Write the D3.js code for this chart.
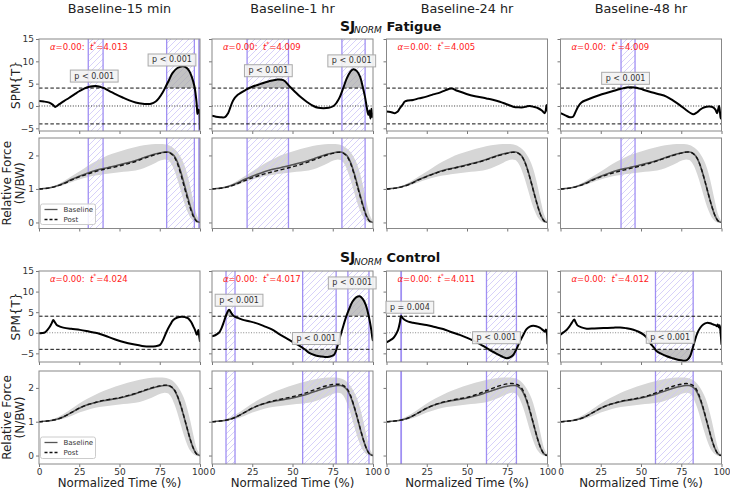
<!DOCTYPE html>
<html><head><meta charset="utf-8">
<script src="https://cdn.jsdelivr.net/npm/d3@7"></script>
<style>body{margin:0;background:#fff} svg{display:block;font-family:"DejaVu Sans",sans-serif} text{white-space:pre}</style>
</head><body><svg id="c" width="730" height="490"></svg>
<script>
// ---------------- DATA ----------------
const columns = ["Baseline-15 min", "Baseline-1 hr", "Baseline-24 hr", "Baseline-48 hr"];
const xTicks = [0, 25, 50, 75, 100];
const spmTicks = [-5, 0, 5, 10, 15];
const forceTicks = [0, 1, 2];
const tFatigue = [4.013, 4.009, 4.005, 4.009];
const tControl = [4.024, 4.017, 4.011, 4.012];

// SPM{t} curves: [time %, t value]
const spmFatigue15 = [[0,1.1],[3,1.0],[6.4,0.75],[8.5,0.3],[10.1,-0.2],[12.6,0.4],[15.5,1.1],[18.8,1.85],[22,2.6],[25,3.3],[28,3.9],[31.2,4.3],[35.4,4.46],[39.5,4.1],[43.5,3.4],[47.8,2.6],[52,1.9],[56.1,1.27],[60,0.8],[64.4,0.5],[67,0.45],[69.6,0.5],[72.5,1.0],[74.7,1.85],[76.8,3.0],[78.9,4.46],[81,6.0],[83,7.4],[86,8.5],[89.2,8.9],[91.5,8.6],[93.4,7.8],[95,6.4],[96.5,4.46],[97.5,2.0],[98,0.2],[98.4,-1.8],[98.8,-0.8],[99.2,-1.5],[99.6,-0.9],[100,-5.3]];
const spmFatigue1h = [[0,-2.2],[2.5,-2.4],[5,-2.5],[8,-2.5],[10,-1.6],[11.5,-0.2],[13.2,1.3],[16,2.5],[21.5,3.7],[25,4.3],[29.8,4.9],[35,5.5],[40,5.9],[44.3,5.8],[48.4,4.3],[51.5,3.2],[54.7,2.1],[59,0.9],[63,0],[66,-0.4],[69.2,-0.5],[72.5,-0.4],[75.5,0],[77.5,0.8],[79.5,2.1],[81.5,4.0],[83.7,6.2],[85.8,7.6],[87.8,8.25],[90,7.8],[92,6.5],[93.5,4.5],[95,2.1],[96,0],[97.1,-2],[97.8,-1.0],[98.4,-2.8],[99,-0.6],[99.5,-2.5],[100,-1.5]];
const spmFatigue24h = [[0,-1.25],[2.5,-1.35],[5.2,-1.6],[6.8,-1.3],[8.3,-0.5],[10,0.3],[11.4,1.0],[13.5,1.25],[16.5,1.35],[20,1.7],[24.8,2.1],[29,2.6],[33.1,3.0],[36.5,3.5],[40.4,3.9],[44,3.4],[49.7,2.7],[55,2.2],[62.1,1.7],[66,1.4],[70.4,0.95],[74.5,0.4],[78.7,-0.15],[82,-0.3],[84.9,-0.3],[87,-0.1],[89,0],[91.5,-0.2],[94.2,-0.5],[96.5,-1.0],[98.3,-1.6],[99,-0.8],[99.4,0.2],[99.7,-0.5],[100,-1.2]];
const spmFatigue48h = [[0,-1.6],[3,-2.1],[5.8,-2.5],[7.8,-2.4],[9.5,-1.2],[10.9,-0.15],[13,0.8],[16.1,1.35],[20,1.9],[24.4,2.45],[28.5,2.9],[32.7,3.35],[37,3.8],[41,4.15],[44,4.2],[47.2,4.1],[51,3.7],[55.5,3.2],[60.5,2.7],[65.8,2.1],[70,1.2],[74.1,0.2],[78,-0.9],[82.4,-1.85],[84.5,-1.5],[86.5,-0.9],[88.5,-0.4],[90.7,-0.15],[92.5,-0.1],[94.8,-0.3],[96.2,-0.8],[97.3,-1.6],[98,-0.6],[98.5,0],[99,-1.2],[99.5,-2.8],[100,-1.5]];
const spmControl15 = [[0,-0.1],[2,-0.05],[3.7,0.1],[5.5,0.8],[6.8,1.5],[8,2.4],[8.9,3.1],[9.8,2.6],[11,1.9],[13,1.5],[15.1,1.25],[20,0.95],[25.5,0.7],[31,0.3],[35,0],[37.9,-0.3],[43,-1.0],[48.3,-1.75],[53,-2.3],[58.6,-2.8],[64,-3.2],[69,-3.35],[72.5,-3.25],[75.2,-2.95],[77.2,-1.6],[79.3,0.3],[81.3,1.8],[83.4,3.1],[86,3.7],[88.6,3.9],[90.7,3.8],[92.7,3.5],[94.5,2.6],[95.9,1.5],[97,0.6],[98,-0.5],[98.6,0.2],[99,0.7],[99.5,-0.8],[100,-2.2]];
const spmControl1h = [[0,-0.85],[2,-0.6],[4.3,0],[6,1.2],[7.5,2.8],[9,4.5],[10.6,5.6],[12,4.8],[13.7,4.0],[16,3.6],[18.8,3.2],[24,2.7],[29.2,2.1],[33,1.5],[37.5,0.75],[41.5,-0.25],[45.8,-1.25],[50,-2.2],[54.2,-3.1],[57.5,-4.0],[60.4,-4.9],[63.5,-5.4],[66.6,-5.7],[69.5,-5.85],[71.7,-5.9],[74,-5.7],[75.9,-5.3],[77.5,-3.8],[79,-1.7],[81,0.9],[83.1,3.6],[85.2,5.8],[87.3,7.6],[89.5,8.6],[91.8,8.85],[93.8,8.1],[95.5,6.8],[96.8,5.0],[98,2.8],[99,0.5],[99.6,-1.25],[100,-2.0]];
const spmControl24h = [[0,-2.3],[2,-1.9],[4.1,-1.35],[5.8,-0.4],[7.2,0.7],[8.3,2.5],[9.1,4.1],[10.2,3.5],[11.4,3.1],[13.5,2.7],[16.5,2.45],[20,2.2],[24.8,1.9],[30,1.4],[35.2,0.9],[40,0.2],[45.5,-0.5],[50.5,-1.3],[55.9,-2.3],[60,-3.2],[64.2,-4.2],[67.5,-4.9],[70.4,-5.5],[72.5,-5.9],[74.5,-6.2],[76.5,-6.0],[78.7,-5.4],[80.8,-3.9],[82.8,-2.15],[85,-0.5],[87,0.9],[89,1.5],[91.1,1.7],[93,1.6],[95.2,1.25],[97,0.7],[98.3,0.27],[99,0.8],[99.5,0.3],[100,-2.8]];
const spmControl48h = [[0,-0.45],[2,0.15],[3.9,0.75],[5.5,1.5],[7,2.4],[8.5,3.2],[9.5,2.5],[10.5,1.8],[13,1.3],[16.3,1.0],[21,1.05],[26.7,1.15],[32,1.2],[37,1.3],[41,1.1],[45.3,0.75],[48.5,0.25],[51.6,-0.45],[53.8,-1.3],[55.7,-2.5],[57.8,-3.5],[59.8,-4.5],[63,-5.2],[66,-5.7],[69,-6.1],[72.3,-6.5],[75,-6.7],[77.4,-6.8],[79,-6.5],[80.5,-5.7],[82,-3.9],[83.6,-1.7],[85,-0.1],[86.7,1.15],[88.7,2.0],[90.9,2.4],[93,2.3],[95,2.0],[96.5,1.8],[97.1,1.6],[97.7,2.0],[98.3,1.3],[98.8,1.8],[99.3,0.5],[100,-2.9]];

// Supra-threshold clusters [start %, end %]
const regionsFatigue = [[[30.6,39.8],[79.3,96.5],[99.3,100]], [[21.8,47.5],[80.7,95.1]], [], [[37.6,46.3]]];
const regionsControl = [[], [[8.7,14.3],[56.3,77.1],[84.4,97.5]], [[9.0,9.25],[62.1,80.7]], [[59.0,82.4]]];

// p-value labels [text, time %, t]
const pFatigue = [[["p < 0.001",34.3,6.7],["p < 0.001",82.6,10.3]], [["p < 0.001",35.0,7.9],["p < 0.001",86.8,10.1]], [], [["p < 0.001",40.4,6.2]]];
const pControl = [[], [["p < 0.001",16.8,7.9],["p < 0.001",64.8,-1.4],["p < 0.001",87.1,12.1]], [["p = 0.004",14.5,6.2],["p < 0.001",68.3,-1.2]], [["p < 0.001",68.1,-1.1]]];

// Relative force curves
const forceX = [0,5,10,15,20,25,30,35,40,45,50,55,60,65,70,75,78,80,82,84,86,88,90,92,94,96,98,100];
const baselineFatigue = [1.00,1.02,1.07,1.16,1.28,1.38,1.47,1.55,1.61,1.66,1.72,1.78,1.85,1.93,2.01,2.07,2.10,2.10,2.07,1.98,1.80,1.52,1.18,0.82,0.48,0.20,0.04,0.00];
const bandFatigueHi = [1.00,1.03,1.10,1.22,1.37,1.52,1.68,1.82,1.94,2.04,2.12,2.19,2.25,2.30,2.33,2.34,2.33,2.31,2.27,2.20,2.10,1.95,1.75,1.45,1.05,0.60,0.22,0.02];
const bandFatigueLo = [1.00,1.01,1.05,1.11,1.20,1.28,1.35,1.40,1.44,1.47,1.50,1.52,1.55,1.62,1.72,1.84,1.88,1.86,1.76,1.56,1.28,0.95,0.62,0.35,0.15,0.04,-0.01,-0.02];
const postFatigue15 = [1.00,1.02,1.07,1.15,1.26,1.36,1.44,1.52,1.58,1.63,1.69,1.75,1.82,1.91,1.99,2.06,2.09,2.09,2.05,1.95,1.75,1.45,1.10,0.75,0.42,0.17,0.03,0.00];
const postFatigue1h = [1.00,1.02,1.06,1.14,1.24,1.33,1.41,1.48,1.54,1.60,1.66,1.73,1.81,1.90,1.99,2.06,2.09,2.09,2.05,1.96,1.77,1.48,1.13,0.78,0.45,0.18,0.03,0.00];
const postFatigue24h = [1.00,1.02,1.07,1.15,1.27,1.37,1.46,1.54,1.60,1.65,1.71,1.77,1.84,1.92,2.00,2.06,2.09,2.09,2.06,1.97,1.79,1.51,1.17,0.81,0.47,0.19,0.04,0.00];
const postFatigue48h = [1.00,1.02,1.07,1.15,1.26,1.36,1.44,1.51,1.57,1.63,1.69,1.76,1.84,1.92,2.00,2.07,2.10,2.10,2.07,1.98,1.80,1.52,1.18,0.82,0.48,0.20,0.04,0.00];
const baselineControl = [1.00,1.02,1.06,1.14,1.27,1.40,1.50,1.57,1.62,1.66,1.70,1.76,1.83,1.91,1.99,2.05,2.07,2.07,2.03,1.94,1.75,1.48,1.15,0.80,0.47,0.20,0.04,0.00];
const bandControlHi = [1.00,1.03,1.10,1.22,1.38,1.54,1.68,1.80,1.91,2.00,2.08,2.15,2.21,2.26,2.30,2.31,2.30,2.28,2.24,2.17,2.06,1.90,1.70,1.40,1.02,0.58,0.20,0.02];
const bandControlLo = [1.00,1.01,1.04,1.09,1.17,1.27,1.35,1.41,1.45,1.48,1.51,1.53,1.56,1.62,1.71,1.82,1.86,1.84,1.74,1.53,1.25,0.92,0.60,0.33,0.14,0.04,-0.01,-0.02];
const postControl15 = [1.00,1.02,1.06,1.14,1.27,1.40,1.50,1.57,1.63,1.67,1.71,1.77,1.84,1.92,2.00,2.06,2.08,2.08,2.04,1.95,1.76,1.49,1.16,0.81,0.47,0.20,0.04,0.00];
const postControl1h = [1.00,1.02,1.06,1.14,1.27,1.40,1.50,1.58,1.64,1.69,1.74,1.80,1.88,1.97,2.05,2.10,2.11,2.10,2.06,1.97,1.78,1.50,1.17,0.81,0.47,0.20,0.04,0.00];
const postControl24h = [1.00,1.02,1.06,1.14,1.27,1.40,1.50,1.58,1.63,1.68,1.72,1.79,1.88,1.97,2.06,2.12,2.13,2.12,2.08,1.99,1.79,1.51,1.17,0.81,0.47,0.20,0.04,0.00];
const postControl48h = [1.00,1.02,1.06,1.14,1.27,1.40,1.50,1.57,1.63,1.67,1.72,1.78,1.87,1.96,2.05,2.11,2.13,2.12,2.08,1.99,1.79,1.51,1.17,0.81,0.47,0.20,0.04,0.00];

// ---------------- LAYOUT ----------------
const svg = d3.select("#c");
const defs = svg.append("defs");
const pat = defs.append("pattern").attr("id","hatch").attr("patternUnits","userSpaceOnUse").attr("width",6).attr("height",6);
pat.append("path").attr("d","M-1,1 l2,-2 M0,6 l6,-6 M5,7 l2,-2").attr("stroke","#cdc5f8").attr("stroke-width",0.8);

const colLeft = [39, 212, 386.5, 560.5];
const W = 161;
const rowGeo = [
  {top:39, bottom:131, dom:[-5.6,15]},
  {top:138, bottom:228.5, dom:[-0.18,2.52]},
  {top:271, bottom:362, dom:[-7.1,15]},
  {top:371, bottom:464, dom:[-0.25,2.5]}
];
const spmSets = [[spmFatigue15, spmFatigue1h, spmFatigue24h, spmFatigue48h],[spmControl15, spmControl1h, spmControl24h, spmControl48h]];
const postSets = [[postFatigue15, postFatigue1h, postFatigue24h, postFatigue48h],[postControl15, postControl1h, postControl24h, postControl48h]];
const baseSets = [baselineFatigue, baselineControl];
const bandSets = [[bandFatigueHi, bandFatigueLo],[bandControlHi, bandControlLo]];
const regionSets = [regionsFatigue, regionsControl];
const pSets = [pFatigue, pControl];
const tSets = [tFatigue, tControl];

let clipId = 0;
function newClip(x, y, w, h) {
  const id = "cl" + (clipId++);
  defs.append("clipPath").attr("id", id).append("rect").attr("x", x).attr("y", y).attr("width", w).attr("height", h);
  return "url(#" + id + ")";
}

function drawRegions(g, x, geo, regs) {
  regs.forEach(r => {
    g.append("rect").attr("x", x(r[0])).attr("y", geo.top).attr("width", x(r[1]) - x(r[0]))
      .attr("height", geo.bottom - geo.top).attr("fill", "url(#hatch)");
    r.forEach(v => g.append("line").attr("x1", x(v)).attr("x2", x(v)).attr("y1", geo.top).attr("y2", geo.bottom)
      .attr("stroke", "#a08ff3").attr("stroke-width", 1.3));
  });
}

function drawAxes(g, x, y, geo, yTicks, showY, showX) {
  const ax = g.append("g").attr("transform", `translate(${x.range()[0]},0)`)
    .call(d3.axisLeft(y).tickValues(yTicks).tickSize(3).tickPadding(2).tickFormat(showY ? d3.format("d") : ""));
  const bx = g.append("g").attr("transform", `translate(0,${geo.bottom})`)
    .call(d3.axisBottom(x).tickValues(xTicks).tickSize(3).tickPadding(2).tickFormat(showX ? d3.format("d") : ""));
  [ax, bx].forEach(a => {
    a.select(".domain").remove();
    a.selectAll("line").attr("stroke", "#777");
    a.selectAll("text").attr("fill", "#333").style("font-size", "9px").style("font-family", '"DejaVu Sans",sans-serif');
  });
  g.append("rect").attr("x", x.range()[0]).attr("y", geo.top).attr("width", W).attr("height", geo.bottom - geo.top)
    .attr("fill", "none").attr("stroke", "#888").attr("stroke-width", 1);
}

const lineGen = (x, y) => d3.line().x(d => x(d[0])).y(d => y(d[1])).curve(d3.curveCatmullRom.alpha(0.5));

for (let s = 0; s < 2; s++) {
  for (let c = 0; c < 4; c++) {
    const x = d3.scaleLinear().domain([0, 100]).range([colLeft[c], colLeft[c] + W]);
    // ---- SPM panel ----
    const g1 = rowGeo[s * 2];
    const y1 = d3.scaleLinear().domain(g1.dom).range([g1.bottom, g1.top]);
    const p1 = svg.append("g");
    const inner = p1.append("g").attr("clip-path", newClip(colLeft[c], g1.top, W, g1.bottom - g1.top));
    drawRegions(inner, x, g1, regionSets[s][c]);
    const t = tSets[s][c];
    const data = spmSets[s][c];
    const areaUp = d3.area().x(d => x(d[0])).y0(y1(t)).y1(d => y1(d[1])).curve(d3.curveCatmullRom.alpha(0.5));
    const areaDn = d3.area().x(d => x(d[0])).y0(y1(-t)).y1(d => y1(d[1])).curve(d3.curveCatmullRom.alpha(0.5));
    inner.append("path").attr("d", areaUp(data)).attr("fill", "#aaaaaa").attr("fill-opacity", 0.72)
      .attr("clip-path", newClip(colLeft[c], g1.top, W, y1(t) - g1.top));
    inner.append("path").attr("d", areaDn(data)).attr("fill", "#aaaaaa").attr("fill-opacity", 0.72)
      .attr("clip-path", newClip(colLeft[c], y1(-t), W, g1.bottom - y1(-t)));
    inner.append("line").attr("x1", x(0)).attr("x2", x(100)).attr("y1", y1(0)).attr("y2", y1(0))
      .attr("stroke", s === 0 ? "#333" : "#888").attr("stroke-width", 1).attr("stroke-dasharray", "1,1.6");
    [t, -t].forEach(v => inner.append("line").attr("x1", x(0)).attr("x2", x(100)).attr("y1", y1(v)).attr("y2", y1(v))
      .attr("stroke", "#111").attr("stroke-width", 1).attr("stroke-dasharray", "3.5,2.2"));
    inner.append("path").attr("d", lineGen(x, y1)(data)).attr("fill", "none").attr("stroke", "#000").attr("stroke-width", 2);
    drawAxes(p1, x, y1, g1, spmTicks, c === 0, false);
    const at = p1.append("text").attr("x", colLeft[c] + 11).attr("y", g1.top + 10.5)
      .attr("fill", "#ff2020").style("font-size", "8.5px");
    at.append("tspan").style("font-style", "italic").text("α");
    at.append("tspan").text("=0.00:  ");
    at.append("tspan").style("font-style", "italic").text("t");
    at.append("tspan").attr("dy", -3.5).style("font-size", "6px").text("*");
    at.append("tspan").attr("dy", 3.5).text("=" + t.toFixed(3));
    pSets[s][c].forEach(p => {
      const gt = p1.append("g");
      const tx = gt.append("text").attr("x", x(p[1])).attr("y", y1(p[2])).attr("text-anchor", "middle")
        .attr("dominant-baseline", "central").attr("fill", "#333").style("font-size", "8px").text(p[0]);
      const bb = tx.node().getBBox();
      gt.insert("rect", "text").attr("x", bb.x - 4).attr("y", bb.y - 1.5).attr("width", bb.width + 8).attr("height", bb.height + 3)
        .attr("fill", "#f3f3f3").attr("fill-opacity", 0.9).attr("stroke", "#aaa").attr("stroke-width", 1);
    });

    // ---- Force panel ----
    const g2 = rowGeo[s * 2 + 1];
    const y2 = d3.scaleLinear().domain(g2.dom).range([g2.bottom, g2.top]);
    const p2 = svg.append("g");
    const inner2 = p2.append("g").attr("clip-path", newClip(colLeft[c], g2.top, W, g2.bottom - g2.top));
    const hi = bandSets[s][0], lo = bandSets[s][1];
    const band = d3.area().x((d, i) => x(forceX[i])).y0((d, i) => y2(lo[i])).y1((d, i) => y2(hi[i])).curve(d3.curveCatmullRom.alpha(0.5));
    inner2.append("path").attr("d", band(hi)).attr("fill", "#d6d6d6");
    drawRegions(inner2, x, g2, regionSets[s][c]);
    const fl = d3.line().x((d, i) => x(forceX[i])).y(d => y2(d)).curve(d3.curveCatmullRom.alpha(0.5));
    inner2.append("path").attr("d", fl(baseSets[s])).attr("fill", "none").attr("stroke", "#555").attr("stroke-width", 1.6);
    inner2.append("path").attr("d", fl(postSets[s][c])).attr("fill", "none").attr("stroke", "#111").attr("stroke-width", 1.4).attr("stroke-dasharray", "4,2.5");
    drawAxes(p2, x, y2, g2, forceTicks, c === 0, s === 1);
    if (c === 0) {
      const lg = p2.append("g").attr("transform", `translate(${colLeft[c] + 1.5},${g2.bottom - (s === 0 ? 24.5 : 27)})`);
      lg.append("rect").attr("width", 55).attr("height", s === 0 ? 20.5 : 21.5).attr("rx", 2)
        .attr("fill", "#fff").attr("fill-opacity", 0.85).attr("stroke", "#ccc");
      [["Baseline", "#555", null], ["Post", "#111", "3,2"]].forEach((e, i) => {
        const yy = 5.5 + i * 10;
        lg.append("line").attr("x1", 4).attr("x2", 17).attr("y1", yy).attr("y2", yy).attr("stroke", e[1])
          .attr("stroke-width", 1.3).attr("stroke-dasharray", e[2]);
        lg.append("text").attr("x", 23).attr("y", yy).attr("dominant-baseline", "central").attr("fill", "#333")
          .style("font-size", "7px").text(e[0]);
      });
    }
  }
}

// column titles
columns.forEach((t, c) => svg.append("text").attr("x", colLeft[c] + W / 2).attr("y", 13).attr("text-anchor", "middle")
  .attr("fill", "#222").style("font-size", "12.8px").text(t));

// section titles
[["Fatigue", 30.5], ["Control", 262]].forEach(d => {
  svg.append("text").attr("x", 340).attr("y", d[1]).attr("fill", "#111").style("font-size", "14px")
    .style("font-weight", "bold").text("SJ");
  svg.append("text").attr("x", 354).attr("y", d[1] + 2.5).attr("fill", "#111").style("font-size", "9px")
    .style("font-style", "italic").text("NORM");
  svg.append("text").attr("x", 386.5).attr("y", d[1]).attr("fill", "#111").style("font-size", "13px")
    .style("font-weight", "bold").text(d[0]);
});

// y labels
[0, 2].forEach(r => {
  const cy = (rowGeo[r].top + rowGeo[r].bottom) / 2;
  svg.append("text").attr("transform", `translate(20,${cy}) rotate(-90)`).attr("text-anchor", "middle")
    .attr("fill", "#222").style("font-size", "12px").text("SPM{T}");
});
[1, 3].forEach(r => {
  const cy = (rowGeo[r].top + rowGeo[r].bottom) / 2;
  svg.append("text").attr("transform", `translate(11,${cy}) rotate(-90)`).attr("text-anchor", "middle")
    .attr("fill", "#222").style("font-size", "12px").text("Relative Force");
  svg.append("text").attr("transform", `translate(24,${cy}) rotate(-90)`).attr("text-anchor", "middle")
    .attr("fill", "#222").style("font-size", "12px").text("(N/BW)");
});
// x labels
colLeft.forEach(l => svg.append("text").attr("x", l + W / 2).attr("y", 487).attr("text-anchor", "middle")
  .attr("fill", "#222").style("font-size", "11.8px").text("Normalized Time (%)"));
</script></body></html>
